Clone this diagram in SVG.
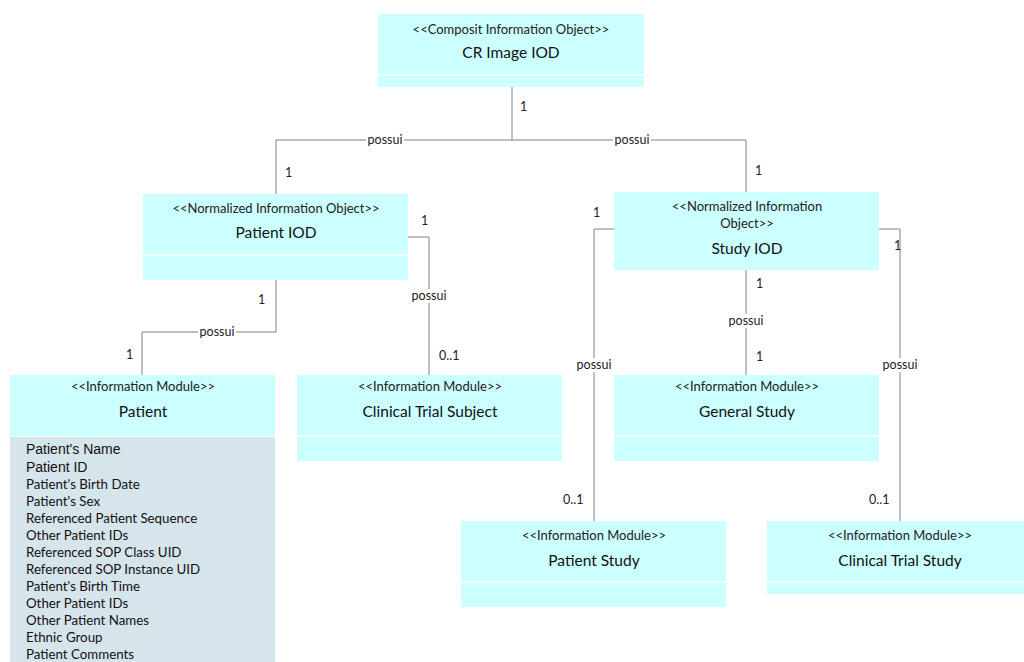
<svg xmlns="http://www.w3.org/2000/svg" width="1024" height="662" viewBox="0 0 1024 662">
<style>
.hd{fill:#ccffff}
.dv{stroke:#ffffff;stroke-width:1.5}
.att{fill:#d6e4ec}
.st{font-family:Lato,"Open Sans",sans-serif;font-size:13px;fill:#222;text-anchor:middle}
.nm{font-family:Lato,"Open Sans",sans-serif;font-size:15.5px;fill:#111;text-anchor:middle}
.ln{fill:none;stroke:#808080;stroke-width:1}
.lb{font-family:Lato,"Open Sans",sans-serif;font-size:12.5px;fill:#222}
.lbc{font-family:Lato,"Open Sans",sans-serif;font-size:12.5px;fill:#222;text-anchor:middle}
.bg{fill:#ffffff}
.a1{font-family:"Liberation Sans",Arial,sans-serif;font-size:14px;fill:#111}
.a2{font-family:Lato,"Open Sans",sans-serif;font-size:13.3px;fill:#111}
</style>
<rect width="1024" height="662" fill="#ffffff"/>
<g id="connectors">
<path class="ln" d="M512,87 V140 M276,194 V140 H746 V192"/>
<path class="ln" d="M408,237 H429 V375"/>
<path class="ln" d="M276,280 V332 H142 V375"/>
<path class="ln" d="M614,229 H594 V521"/>
<path class="ln" d="M879,229 H900 V521"/>
<path class="ln" d="M746,270 V375"/>
<rect class="bg" x="366" y="133" width="38" height="14"/>
<text class="lbc" x="385" y="144">possui</text>
<rect class="bg" x="613" y="133" width="38" height="14"/>
<text class="lbc" x="632" y="144">possui</text>
<text class="lb" x="520" y="111">1</text>
<text class="lb" x="285" y="177">1</text>
<text class="lb" x="755" y="175">1</text>
<text class="lb" x="421" y="225">1</text>
<rect class="bg" x="410" y="289" width="38" height="14"/>
<text class="lbc" x="429" y="300">possui</text>
<text class="lb" x="439" y="360">0..1</text>
<text class="lb" x="258" y="304">1</text>
<rect class="bg" x="198" y="325" width="38" height="14"/>
<text class="lbc" x="217" y="336">possui</text>
<text class="lb" x="126" y="359">1</text>
<text class="lb" x="593" y="217">1</text>
<rect class="bg" x="575" y="358" width="38" height="14"/>
<text class="lbc" x="594" y="369">possui</text>
<text class="lb" x="563" y="504">0..1</text>
<text class="lb" x="894" y="250">1</text>
<rect class="bg" x="881" y="358" width="38" height="14"/>
<text class="lbc" x="900" y="369">possui</text>
<text class="lb" x="869" y="504">0..1</text>
<text class="lb" x="756" y="288">1</text>
<rect class="bg" x="727" y="314" width="38" height="14"/>
<text class="lbc" x="746" y="325">possui</text>
<text class="lb" x="756" y="361">1</text>
</g>
<g id="cr-image-iod">
<rect class="hd" x="378" y="14" width="266" height="73"/>
<line class="dv" x1="378" y1="75" x2="644" y2="75"/>
<text class="st" x="511" y="34">&lt;&lt;Composit Information Object&gt;&gt;</text>
<text class="nm" x="511" y="58">CR Image IOD</text>
</g>
<g id="patient-iod">
<rect class="hd" x="143" y="194" width="265" height="86"/>
<line class="dv" x1="143" y1="255" x2="408" y2="255"/>
<text class="st" x="276" y="213">&lt;&lt;Normalized Information Object&gt;&gt;</text>
<text class="nm" x="276" y="238">Patient IOD</text>
</g>
<g id="study-iod">
<rect class="hd" x="614" y="192" width="265" height="78"/>
<text class="st" x="747" y="211">&lt;&lt;Normalized Information</text>
<text class="st" x="747" y="228">Object&gt;&gt;</text>
<text class="nm" x="747" y="254">Study IOD</text>
</g>
<g id="patient">
<rect class="hd" x="10" y="375" width="265" height="61"/>
<rect class="att" x="10" y="437" width="265" height="225"/>
<text class="st" x="143" y="391">&lt;&lt;Information Module&gt;&gt;</text>
<text class="nm" x="143" y="417">Patient</text>
<text class="a1" x="26" y="454">Patient's Name</text>
<text class="a1" x="26" y="472">Patient ID</text>
<text class="a2" x="26" y="489">Patient's Birth Date</text>
<text class="a2" x="26" y="506">Patient's Sex</text>
<text class="a2" x="26" y="523">Referenced Patient Sequence</text>
<text class="a2" x="26" y="540">Other Patient IDs</text>
<text class="a2" x="26" y="557">Referenced SOP Class UID</text>
<text class="a2" x="26" y="574">Referenced SOP Instance UID</text>
<text class="a2" x="26" y="591">Patient's Birth Time</text>
<text class="a2" x="26" y="608">Other Patient IDs</text>
<text class="a2" x="26" y="625">Other Patient Names</text>
<text class="a2" x="26" y="642">Ethnic Group</text>
<text class="a2" x="26" y="659">Patient Comments</text>
</g>
<g id="clinical-trial-subject">
<rect class="hd" x="297" y="375" width="265" height="86"/>
<line class="dv" x1="297" y1="436" x2="562" y2="436"/>
<text class="st" x="430" y="391">&lt;&lt;Information Module&gt;&gt;</text>
<text class="nm" x="430" y="417">Clinical Trial Subject</text>
</g>
<g id="general-study">
<rect class="hd" x="614" y="375" width="265" height="86"/>
<line class="dv" x1="614" y1="436" x2="879" y2="436"/>
<text class="st" x="747" y="391">&lt;&lt;Information Module&gt;&gt;</text>
<text class="nm" x="747" y="417">General Study</text>
</g>
<g id="patient-study">
<rect class="hd" x="461" y="521" width="265" height="86"/>
<line class="dv" x1="461" y1="582" x2="726" y2="582"/>
<text class="st" x="594" y="540">&lt;&lt;Information Module&gt;&gt;</text>
<text class="nm" x="594" y="566">Patient Study</text>
</g>
<g id="clinical-trial-study">
<rect class="hd" x="767" y="521" width="265" height="73"/>
<line class="dv" x1="767" y1="582" x2="1032" y2="582"/>
<text class="st" x="900" y="540">&lt;&lt;Information Module&gt;&gt;</text>
<text class="nm" x="900" y="566">Clinical Trial Study</text>
</g>
</svg>
